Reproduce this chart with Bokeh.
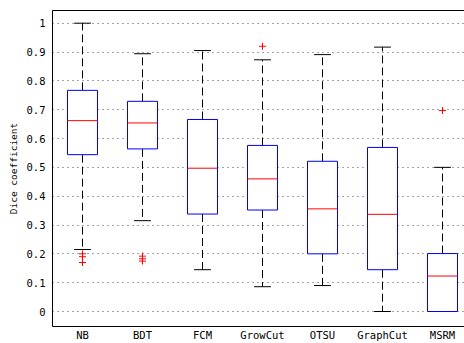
from bokeh.plotting import figure
from bokeh.models import Range1d, FixedTicker, LinearAxis, ColumnDataSource
from bokeh.embed import file_html
from bokeh.resources import INLINE

categories = ["NB", "BDT", "FCM", "GrowCut", "OTSU", "GraphCut", "MSRM"]
q1 = [0.544, 0.564, 0.338, 0.352, 0.200, 0.145, 0.0]
median = [0.662, 0.654, 0.497, 0.460, 0.356, 0.337, 0.123]
q3 = [0.767, 0.729, 0.666, 0.576, 0.521, 0.569, 0.201]
lower = [0.215, 0.315, 0.145, 0.086, 0.090, 0.0, 0.0]
upper = [1.0, 0.894, 0.905, 0.873, 0.891, 0.917, 0.500]
outlier_cat = ["NB", "NB", "NB", "BDT", "BDT", "BDT", "GrowCut", "MSRM"]
outlier_val = [0.200, 0.190, 0.170, 0.192, 0.183, 0.175, 0.920, 0.697]
ytick_vals = [0.0, 0.1, 0.2, 0.3, 0.4, 0.5, 0.6, 0.7, 0.8, 0.9, 1.0]
ytick_labels = ["0", "0.1", "0.2", "0.3", "0.4", "0.5", "0.6", "0.7", "0.8", "0.9", "1"]

pos = list(range(1, len(categories) + 1))
box_w = 0.5
cap_hw = 0.14

FONT = "DejaVu Sans Mono"

x0 = 0.5
p = figure(width=464, height=343, output_backend="svg", toolbar_location=None,
           x_range=Range1d(x0, x0 + 412 / 60), y_range=Range1d(-0.052, 1.044),
           min_border_left=52, min_border_right=0, min_border_top=10, min_border_bottom=17)
p.outline_line_color = None
p.background_fill_color = "white"
p.border_fill_color = "white"

src = ColumnDataSource(dict(
    x=pos, q1=q1, med=median, q3=q3, lo=lower, hi=upper,
    xl=[x - box_w / 2 for x in pos], xr=[x + box_w / 2 for x in pos],
    cl=[x - cap_hw for x in pos], cr=[x + cap_hw for x in pos],
))

# whiskers
p.segment(x0="x", y0="q3", x1="x", y1="hi", source=src, line_color="black",
          line_width=1, line_dash="8 4")
p.segment(x0="x", y0="q1", x1="x", y1="lo", source=src, line_color="black",
          line_width=1, line_dash="8 4")
# caps
p.segment(x0="cl", y0="hi", x1="cr", y1="hi", source=src, line_color="black", line_width=1)
p.segment(x0="cl", y0="lo", x1="cr", y1="lo", source=src, line_color="black", line_width=1)
# boxes (four sides each)
p.quad(left="xl", right="xr", bottom="q1", top="q3", source=src,
       fill_color="white", line_color=None)
p.segment(x0="xl", y0="q1", x1="xl", y1="q3", source=src, line_color="#0000ff", line_width=1)
p.segment(x0="xr", y0="q1", x1="xr", y1="q3", source=src, line_color="#0000ff", line_width=1)
p.segment(x0="xl", y0="q1", x1="xr", y1="q1", source=src, line_color="#0000ff", line_width=1)
p.segment(x0="xl", y0="q3", x1="xr", y1="q3", source=src, line_color="#0000ff", line_width=1)
# medians
p.segment(x0="xl", y0="med", x1="xr", y1="med", source=src, line_color="#ff0000", line_width=1)
# outliers
ox = [pos[categories.index(c)] for c in outlier_cat]
p.scatter(x=ox, y=outlier_val, marker="cross", size=7, line_color="#ff0000", line_width=1)

xax = p.below[0]
yax = p.left[0]

# top frame line as an empty axis (no ticks, no labels)
top_axis = LinearAxis(ticker=FixedTicker(ticks=[]), major_label_text_font_size="10px",
                      major_label_text_alpha=0.0, major_label_standoff=0,
                      major_tick_in=0, major_tick_out=0, minor_tick_line_color=None,
                      axis_line_color="black", axis_line_width=1)
p.add_layout(top_axis, "above")

p.xgrid.visible = False
p.ygrid.ticker = FixedTicker(ticks=ytick_vals)
p.ygrid.grid_line_color = "black"
p.ygrid.grid_line_dash = "1 4"
p.ygrid.grid_line_alpha = 0.7

xax.ticker = FixedTicker(ticks=pos)
xax.major_label_overrides = {x: c for x, c in zip(pos, categories)}
yax.ticker = FixedTicker(ticks=ytick_vals)
yax.major_label_overrides = {v: l for v, l in zip(ytick_vals, ytick_labels)}
yax.axis_label = "Dice coefficient"

for ax in (xax, yax):
    ax.axis_line_color = "black"
    ax.axis_line_width = 1
    ax.major_tick_in = 0
    ax.major_tick_out = 0
    ax.minor_tick_line_color = None
    ax.major_label_text_font = FONT
    ax.major_label_text_font_size = "10.5px"
    ax.major_label_text_color = "black"
    ax.major_label_standoff = 7

xax.major_label_standoff = 2

yax.axis_label_text_font = FONT
yax.axis_label_text_font_size = "9.5px"
yax.axis_label_text_font_style = "normal"
yax.axis_label_text_color = "black"
yax.axis_label_standoff = 5

open("out.html", "w").write(file_html(p, INLINE))
